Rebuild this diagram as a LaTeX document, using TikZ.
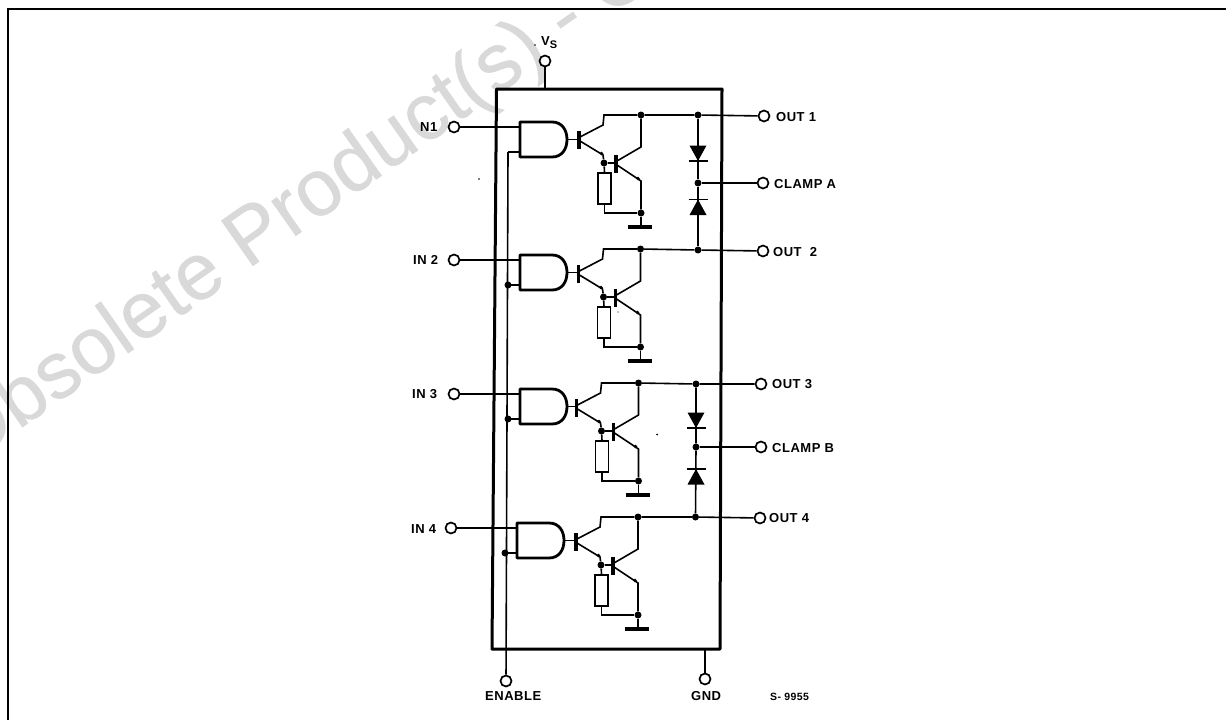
\documentclass[tikz,border=0pt]{standalone}
\usepackage{fontspec}
\setmainfont{Liberation Sans}
\newfontfamily\labfont[LetterSpace=4]{Liberation Sans}
\newfontfamily\markfont[FakeBold=0.5]{Liberation Sans}
\tikzset{
  wire/.style={line width=1.6pt,black},
  pinnode/.style={circle,draw=black,line width=1.7pt,fill=white,minimum size=11pt,inner sep=0pt},
  jointdot/.style={circle,fill=black,inner sep=0pt,minimum size=7pt},
  tinydot/.style={circle,fill=black,inner sep=0pt,minimum size=3.6pt},
  lab/.style={font=\labfont\bfseries\fontsize{13}{15}\selectfont,anchor=west,inner sep=0pt},
  gatebody/.style={line width=2.8pt,black,line join=round},
  basebar/.style={line width=3.8pt,black},
  groundbar/.style={line width=4pt,black},
  resbox/.style={draw=black,line width=1.3pt,fill=white,minimum width=13pt,minimum height=31pt,inner sep=0pt},
  diodebar/.style={line width=1.4pt,black},
}
% name, gate dx, gate dy, transistor dx, transistor dy
\newcommand{\gateunit}[5]{%
  \begin{scope}[shift={(#2,#3)}]
    \node[pinnode] (#1in) at (454,127) {};
    \coordinate (#1ga) at (520,127);
    \coordinate (#1gb) at (520,152);
    \coordinate (#1en) at (508,152);
    \coordinate (#1tip) at (567,139.5);
    \draw[wire] (#1in) -- (#1ga);
    \draw[wire] (#1en) -- (#1gb);
    \draw[gatebody] (520,122) -- (552,122) .. controls (562,122) and (567,130) .. (#1tip)
      .. controls (567,149) and (562,157) .. (552,157) -- (520,157) -- cycle;
  \end{scope}
  \begin{scope}[shift={(#4,#5)}]
    \coordinate (#1bar) at (579,140);
    \draw[basebar] (579,131) -- (579,149);
    \draw[wire] (#1tip) -- (#1bar |- #1tip);
    \node[jointdot] (#1c) at (641,115) {};
    \node[jointdot] (#1m) at (604,163) {};
    \node[jointdot] (#1g) at (641,213) {};
    \node[tinydot] at (601.5,153.5) {};
    \node[tinydot] at (638,178.5) {};
    \draw[wire] (580,137) -- (603,125) -- (604,115) -- (#1c);
    \draw[wire] (580,141) -- (603,155) -- (#1m);
    \draw[basebar] (616,154.5) -- (616,173);
    \draw[wire] (#1m) -- (616,163);
    \draw[wire] (617,161) -- (641,147) -- (#1c);
    \draw[wire] (617,165) -- (641,181) -- (#1g);
    \node[resbox] (#1r) at (604.5,188.5) {};
    \draw[wire] (#1m) -- (#1r.north);
    \draw[wire] (#1r.south) -- (604.5,213) -- (#1g);
    \coordinate (#1e) at (641,227);
    \draw[wire] (#1g) -- (#1e);
    \draw[groundbar] (628,227) -- (652,227);
  \end{scope}
}
% x, cathode bar y, direction sign: triangle base at y - sign*15
\newcommand{\diodemark}[3]{%
  \fill[black] (#1-8.5,#2-#3*15.5) -- (#1+8.5,#2-#3*15.5) -- (#1,#2) -- cycle;
  \draw[diodebar] (#1-9.5,#2) -- (#1+9.5,#2);
}
\begin{document}
\begin{tikzpicture}[x=1pt,y=-1pt]
\useasboundingbox (0,0) rectangle (1226,720);
\clip (0,0) rectangle (1226,720);
\fill[white] (0,0) rectangle (1226,720);
% watermark
\node[rotate=35,anchor=base west,inner sep=0pt,text=black!15,font=\markfont\fontsize{80}{90}\selectfont] (mark) at (-33,466) {Obsolete Product(s) - Obsolete Product(s)};
% page frame
\draw[line width=2pt,black] (8,720) -- (8,9) -- (1226,9);
% package outline
\coordinate (tl) at (496.5,89);
\coordinate (tr) at (722,89);
\coordinate (br) at (720,649);
\coordinate (bl) at (492,649);
\draw[line width=3pt,black,line join=round] (tl) -- (tr) -- (br) -- (bl) -- cycle;
% power pins
\node[pinnode] (vs) at (545,61) {};
\node[pinnode] (en) at (506,681) {};
\node[pinnode] (gnd) at (705,679) {};
\draw[wire] (vs) -- (vs |- tl);
\draw[wire] (gnd) -- (gnd |- bl);
% units
\gateunit{ua}{0}{0}{0}{0}
\gateunit{ub}{0}{133}{-0.5}{134}
\gateunit{uc}{0}{267}{-2.5}{268}
\gateunit{ud}{-3}{401}{-3}{402}
\draw[wire] (uaen) -- (en);
\node[jointdot] at (uben) {};
\node[jointdot] at (ucen) {};
\node[jointdot] at (uden) {};
% outputs and clamps, upper pair
\node[pinnode] (o1) at (764,116) {};
\node[pinnode] (ca) at (763,183) {};
\node[pinnode] (o2) at (763,251) {};
\node[jointdot] (d1t) at (698,115) {};
\node[jointdot] (d1m) at (698,183) {};
\node[jointdot] (d1b) at (698,250) {};
\draw[wire] (uac) -- (d1t) -- (o1);
\draw[wire] (d1m) -- (ca);
\draw[wire] (ubc) -- (d1b) -- (o2);
\draw[wire] (d1t) -- (d1m) -- (d1b);
\diodemark{698}{161}{1}
\diodemark{698}{199.5}{-1}
% outputs and clamps, lower pair
\node[pinnode] (o3) at (761,384) {};
\node[pinnode] (cb) at (761,447) {};
\node[pinnode] (o4) at (760,518) {};
\node[jointdot] (d2t) at (696,384) {};
\node[jointdot] (d2m) at (696,447) {};
\node[jointdot] (d2b) at (695.5,517) {};
\draw[wire] (ucc) -- (d2t) -- (o3);
\draw[wire] (d2m) -- (cb);
\draw[wire] (udc) -- (d2b) -- (o4);
\draw[wire] (d2t) -- (d2m) -- (d2b);
\diodemark{696}{428}{1}
\diodemark{696}{469}{-1}
% labels
\node[lab] (tvs) at (541,43) {V\raisebox{-3pt}{\fontsize{11}{11}\selectfont S}};
\node[lab] (t1) at (420,127) {N1};
\node[lab] (t2) at (413,260) {IN 2};
\node[lab] (t3) at (412,394) {IN 3};
\node[lab] (t4) at (411,529) {IN 4};
\node[lab] (to1) at (776,117) {OUT 1};
\node[lab] (tca) at (774,184) {CLAMP A};
\node[lab] (to2) at (773,252) {OUT~~2};
\node[lab] (to3) at (772,384) {OUT 3};
\node[lab] (tcb) at (772,448) {CLAMP B};
\node[lab] (to4) at (769,518) {OUT 4};
\node[lab] (ten) at (485,696) {ENABLE};
\node[lab] (tg) at (691,696) {GND};
\node[lab,font=\labfont\bfseries\fontsize{10.5}{12}\selectfont] (ts) at (770,697) {S- 9955};
% specks in the print
\fill[black] (479,179) circle (0.8);
\fill[black] (618,312) circle (0.7);
\fill[black] (657,434.5) circle (1);
\fill[black] (535,45) circle (0.8);
\end{tikzpicture}
\end{document}
